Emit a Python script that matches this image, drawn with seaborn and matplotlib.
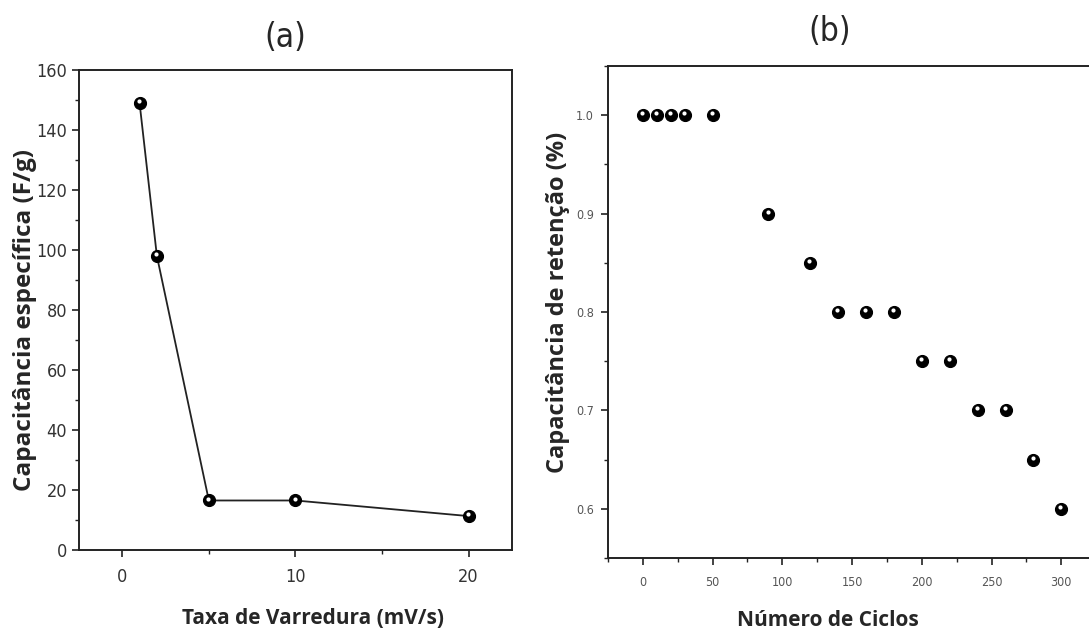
import matplotlib
matplotlib.use("Agg")
import matplotlib.pyplot as plt
import matplotlib.transforms as mtransforms
from matplotlib.ticker import MultipleLocator
import seaborn as sns
import pandas as pd

# (a) specific capacitance vs scan rate
scan_rate = [1, 2, 5, 10, 20]
capacitance = [149, 98, 16.5, 16.5, 11.3]

# (b) capacitance retention vs cycle number
cycles = [0, 10, 20, 30, 50, 90, 120, 140, 160, 180, 200, 220, 240, 260, 280, 300]
retention = [1.0, 1.0, 1.0, 1.0, 1.0, 0.9, 0.85, 0.8, 0.8, 0.8, 0.75, 0.75, 0.7, 0.7, 0.65, 0.6]

sns.set_theme(style="white")
plt.rcParams["font.family"] = ["Open Sans", "DejaVu Sans"]

fig = plt.figure(figsize=(10.89, 6.39), dpi=100)
ax_a = fig.add_axes([0.0725, 0.1393, 0.3976, 0.7512])
ax_b = fig.add_axes([0.5583, 0.1268, 0.4803, 0.7700])

narrow = dict(family=["DejaVu Sans"], stretch="condensed")


def sphere_markers(ax, data, x, y, size):
    sns.scatterplot(data=data, x=x, y=y, ax=ax, color="black", s=size,
                    edgecolor="black", linewidth=0.8, zorder=4, legend=False)
    sns.scatterplot(data=data, x=x, y=y, ax=ax, color="white", s=size * 0.12,
                    linewidth=0, zorder=5, legend=False)
    glint = ax.collections[-1]
    glint.set_offset_transform(
        mtransforms.offset_copy(ax.transData, fig=fig, x=-0.6, y=1.4, units="points"))


def style_ticklabels(ax):
    for lab in ax.get_xticklabels() + ax.get_yticklabels():
        lab.set_family(narrow["family"])
        lab.set_stretch(narrow["stretch"])


# ---- panel (a)
df_a = pd.DataFrame({"rate": scan_rate, "cap": capacitance})
sns.lineplot(data=df_a, x="rate", y="cap", ax=ax_a, color="#222222", lw=1.3, zorder=3)
sphere_markers(ax_a, df_a, "rate", "cap", 75)
ax_a.set_xlim(-2.5, 22.5)
ax_a.set_ylim(0, 160)
ax_a.xaxis.set_major_locator(MultipleLocator(10))
ax_a.xaxis.set_minor_locator(MultipleLocator(5))
ax_a.yaxis.set_major_locator(MultipleLocator(20))
ax_a.yaxis.set_minor_locator(MultipleLocator(10))
ax_a.set_xlabel("Taxa de Varredura (mV/s)", fontsize=15, fontweight="bold")
ax_a.set_ylabel("Capacitância específica (F/g)", fontsize=17.5, fontweight="bold")
ax_a.xaxis.set_label_coords(0.54, -0.121)
ax_a.yaxis.set_label_coords(-0.097, 0.48)
for s in ax_a.spines.values():
    s.set_color("#222222")
    s.set_linewidth(1.4)
ax_a.tick_params(axis="both", which="major", direction="out", length=5, width=1.2,
                 color="#222222", labelsize=13, labelcolor="#333333",
                 bottom=True, left=True)
ax_a.tick_params(axis="x", which="major", pad=8)
ax_a.tick_params(axis="both", which="minor", direction="out", length=3, width=1.0,
                 color="#222222", bottom=True, left=True)
style_ticklabels(ax_a)

# ---- panel (b)
df_b = pd.DataFrame({"ciclos": cycles, "ret": retention})
sphere_markers(ax_b, df_b, "ciclos", "ret", 75)
ax_b.set_xlim(-25, 350)
ax_b.set_ylim(0.55, 1.05)
ax_b.xaxis.set_minor_locator(MultipleLocator(25))
ax_b.yaxis.set_major_locator(MultipleLocator(0.1))
ax_b.yaxis.set_minor_locator(MultipleLocator(0.05))
ax_b.set_xticks([0, 50, 100, 150, 200, 250, 300])
ax_b.set_xlabel("Número de Ciclos", fontsize=15, fontweight="bold")
ax_b.set_ylabel("Capacitância de retenção (%)", fontsize=17, fontweight="bold")
ax_b.xaxis.set_label_coords(0.42, -0.106)
ax_b.yaxis.set_label_coords(-0.072, 0.52)
for s in ax_b.spines.values():
    s.set_color("#222222")
    s.set_linewidth(1.4)
ax_b.tick_params(axis="both", which="major", direction="out", length=5, width=1.2,
                 color="#222222", labelsize=9, labelcolor="#555555",
                 bottom=True, left=True)
ax_b.tick_params(axis="x", which="major", pad=8)
ax_b.tick_params(axis="y", which="major", pad=5)
ax_b.tick_params(axis="both", which="minor", direction="out", length=3, width=1.0,
                 color="#222222", bottom=True, left=True)
style_ticklabels(ax_b)

# panel letters
fig.text(0.262, 0.942, "(a)", ha="center", va="center", fontsize=24,
         family=narrow["family"], stretch=narrow["stretch"])
fig.text(0.762, 0.950, "(b)", ha="center", va="center", fontsize=24,
         family=narrow["family"], stretch=narrow["stretch"])

fig.savefig("out.png", dpi=100)
